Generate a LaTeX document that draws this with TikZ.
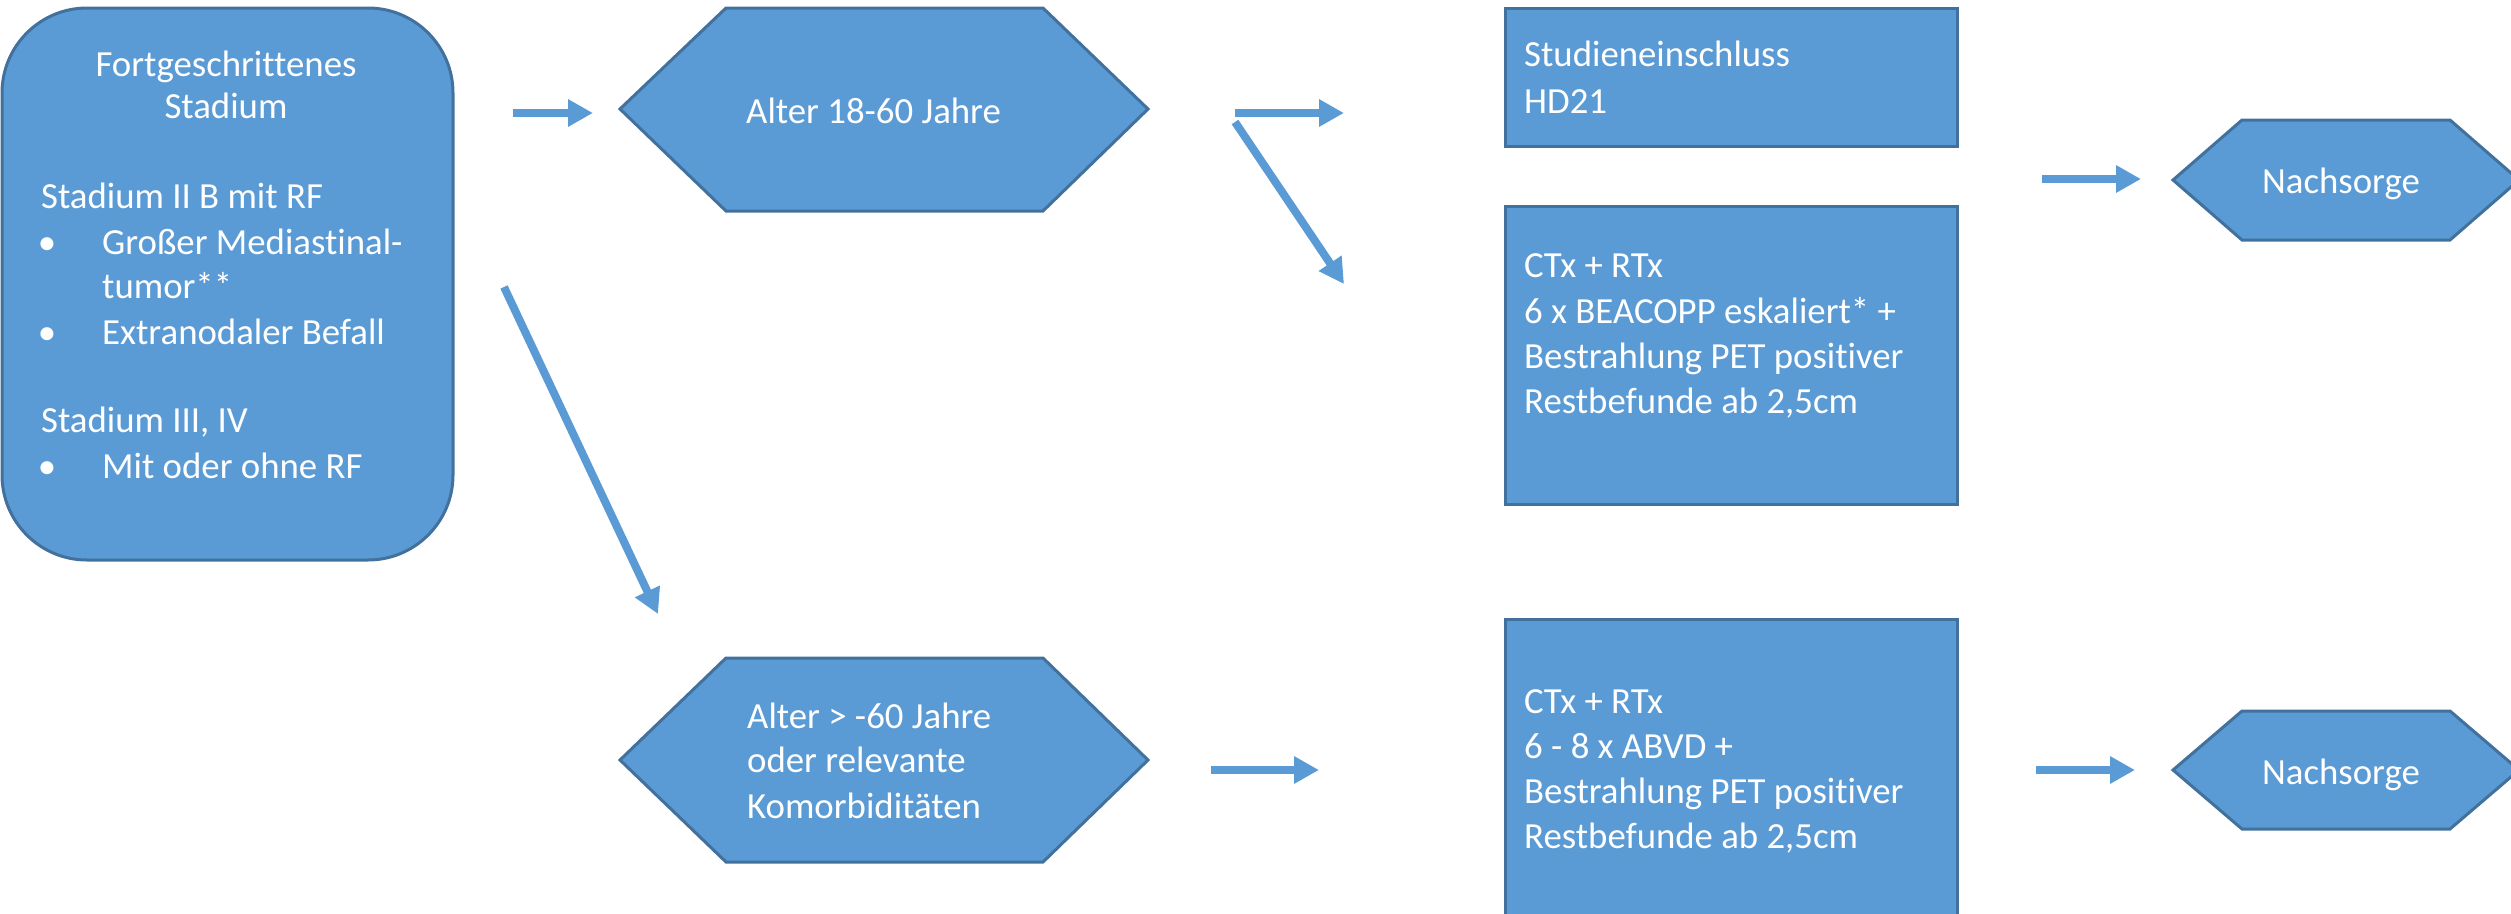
\documentclass[tikz,border=0pt]{standalone}
\usepackage{fontspec}
\setmainfont{Carlito}[Ligatures={NoCommon}]
\usetikzlibrary{arrows.meta}
\definecolor{boxfill}{HTML}{5B9BD5}
\definecolor{boxline}{HTML}{41719C}
\begin{document}
\begin{tikzpicture}[x=1pt,y=-1pt,
  blockshape/.style={fill=boxfill, draw=boxline, line width=3pt, inner sep=0pt, outer sep=0pt},
  txt/.style={text=white, font=\fontsize{36.8pt}{45pt}\selectfont, inner sep=0pt, anchor=base west},
  ctxt/.style={txt, anchor=base},
  conn/.style={draw=boxfill, line width=8pt, -{Triangle[length=25pt,width=26pt]}}
]
\useasboundingbox (0,0) rectangle (2511,913);

% ---------- shapes ----------
\node[blockshape, rounded corners=85pt, minimum width=451pt, minimum height=552pt, anchor=north west] (stage) at (2,8) {};
\node[blockshape, minimum width=452pt, minimum height=138pt, anchor=north west] (study) at (1505,8) {};
\node[blockshape, minimum width=452pt, minimum height=298pt, anchor=north west] (ctxA) at (1505,206) {};
\node[blockshape, minimum width=452pt, minimum height=310pt, anchor=north west] (ctxB) at (1505,619) {};

\draw[blockshape] (620,109) -- (726,8) -- (1043,8) -- (1148,109) -- (1043,211) -- (726,211) -- cycle;
\draw[blockshape] (620,760) -- (726,658) -- (1043,658) -- (1148,760) -- (1043,862) -- (726,862) -- cycle;
\draw[blockshape] (2173,180) -- (2242,120) -- (2450,120) -- (2519,180) -- (2450,240) -- (2242,240) -- cycle;
\draw[blockshape] (2173,770) -- (2242,711) -- (2450,711) -- (2519,770) -- (2450,829) -- (2242,829) -- cycle;

% ---------- texts ----------
\node[ctxt] (s1) at (226,76) {Fortgeschrittenes};
\node[ctxt] (s2) at (226,118) {Stadium};
\node[txt] (s3) at (41,208) {Stadium II B mit RF};
\node[ctxt] (b1) at (47,254) {•};
\node[txt] (s4) at (102,254) {Großer Mediastinal-};
\node[txt] (s5) at (102,298) {tumor**};
\node[ctxt] (b2) at (47,344) {•};
\node[txt] (s6) at (102,344) {Extranodaler Befall};
\node[txt] (s7) at (41,432) {Stadium III, IV};
\node[ctxt] (b3) at (47,478) {•};
\node[txt] (s8) at (102,478) {Mit oder ohne RF};

\node[txt] (h1) at (746,123) {Alter 18-60 Jahre};

\node[txt] (h2a) at (747,728) {Alter > -60 Jahre};
\node[txt] (h2b) at (747,772) {oder relevante};
\node[txt] (h2c) at (747,818) {Komorbiditäten};

\node[txt] (st1) at (1524,66) {Studieneinschluss};
\node[txt] (st2) at (1524,113) {HD21};

\node[txt] (ca1) at (1524,277) {CTx + RTx};
\node[txt] (ca2) at (1524,323) {6 x BEACOPP eskaliert* +};
\node[txt] (ca3) at (1524,368) {Bestrahlung PET positiver};
\node[txt] (ca4) at (1524,413) {Restbefunde ab 2,5cm};

\node[txt] (cb1) at (1524,713) {CTx + RTx};
\node[txt] (cb2) at (1524,758) {6 - 8 x ABVD +};
\node[txt] (cb3) at (1524,803) {Bestrahlung PET positiver};
\node[txt] (cb4) at (1524,848) {Restbefunde ab 2,5cm};

\node[ctxt] (n1) at (2341,193) {Nachsorge};
\node[ctxt] (n2) at (2341,784) {Nachsorge};

% ---------- connectors ----------
\coordinate (a1s) at (513,113);  \coordinate (a1e) at (593,113);
\coordinate (a2s) at (1235,113); \coordinate (a2e) at (1344,113);
\coordinate (a3s) at (1235,122); \coordinate (a3e) at (1344,284);
\coordinate (a4s) at (504,287);  \coordinate (a4e) at (658,614);
\coordinate (a5s) at (1211,770); \coordinate (a5e) at (1319,770);
\coordinate (a6s) at (2042,179); \coordinate (a6e) at (2141,179);
\coordinate (a7s) at (2036,770); \coordinate (a7e) at (2135,770);
\draw[conn] (a1s) -- (a1e);
\draw[conn] (a2s) -- (a2e);
\draw[conn] (a3s) -- (a3e);
\draw[conn] (a4s) -- (a4e);
\draw[conn] (a5s) -- (a5e);
\draw[conn] (a6s) -- (a6e);
\draw[conn] (a7s) -- (a7e);
\end{tikzpicture}
\end{document}
